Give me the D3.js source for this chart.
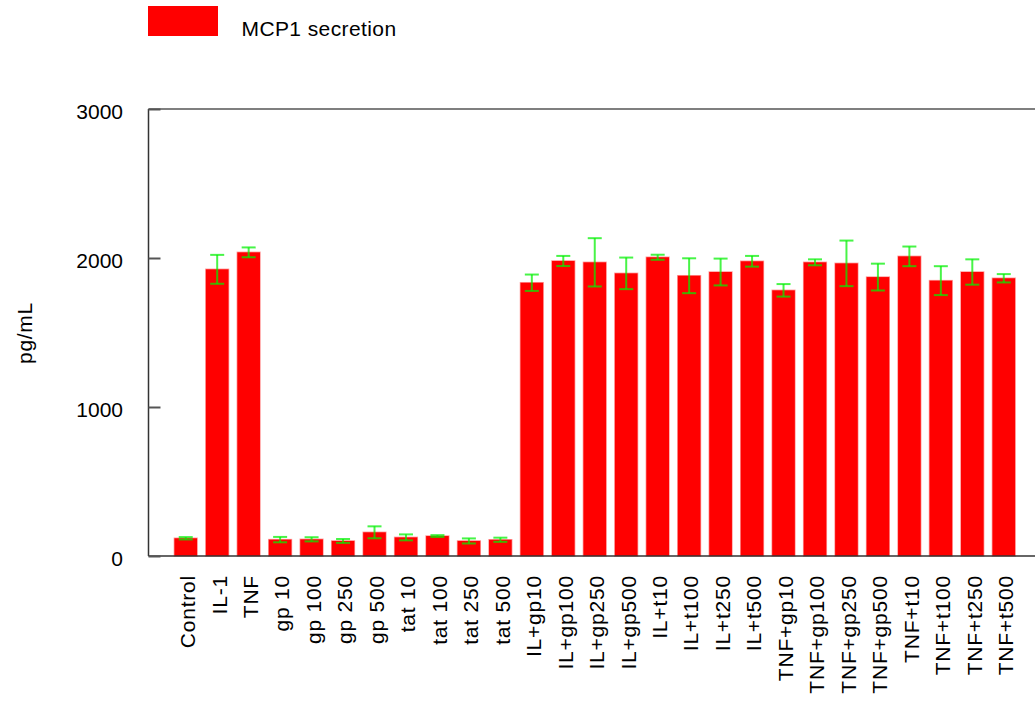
<!DOCTYPE html>
<html>
<head>
<meta charset="utf-8">
<script src="https://cdn.jsdelivr.net/npm/d3@7"></script>
<style>
  body { margin: 0; background: #fff; }
  text { font-family: "Liberation Sans", Arial, sans-serif; fill: #000; }
</style>
</head>
<body>
<div id="chart"></div>
<script>
// data
var categories = ["Control", "IL-1", "TNF", "gp 10", "gp 100", "gp 250", "gp 500",
  "tat 10", "tat 100", "tat 250", "tat 500",
  "IL+gp10", "IL+gp100", "IL+gp250", "IL+gp500",
  "IL+t10", "IL+t100", "IL+t250", "IL+t500",
  "TNF+gp10", "TNF+gp100", "TNF+gp250", "TNF+gp500",
  "TNF+t10", "TNF+t100", "TNF+t250", "TNF+t500"];
var means = [119, 1924, 2038, 110, 112, 101, 159, 125, 134, 101, 109,
  1834, 1980, 1971, 1897, 2005, 1881, 1906, 1978,
  1783, 1971, 1964, 1872, 2011, 1848, 1906, 1864];
var errors = [8, 97, 33, 18, 14, 13, 40, 20, 6, 17, 14,
  55, 34, 162, 106, 17, 117, 90, 36,
  42, 20, 153, 90, 66, 97, 85, 28];
var yTicks = [0, 1000, 2000, 3000];
var seriesName = "MCP1 secretion";
var yTitle = "pg/mL";

var width = 1035, height = 702;
var plotLeft = 148.5, plotTop = 109, plotBottom = 556;

var svg = d3.select("#chart").append("svg")
  .attr("width", width)
  .attr("height", height);

var x = d3.scaleBand()
  .domain(categories)
  .range([170, 1019.5])
  .paddingInner(0.28)
  .paddingOuter(0.14);

var y = d3.scaleLinear()
  .domain([0, 3000])
  .range([plotBottom, plotTop]);

// bars
svg.append("g").selectAll("rect")
  .data(means)
  .enter().append("rect")
  .attr("x", function(d, i) { return x(categories[i]); })
  .attr("y", function(d) { return y(d); })
  .attr("width", x.bandwidth())
  .attr("height", function(d) { return plotBottom - y(d); })
  .attr("fill", "#ff0000")
  .attr("stroke", "#ff0000")
  .attr("stroke-opacity", 0.4)
  .attr("stroke-width", 1.5);

// error bars
var capW = 7;
var eb = svg.append("g")
  .attr("stroke", "#00f000")
  .attr("stroke-opacity", 0.72)
  .attr("stroke-width", 2);
means.forEach(function(m, i) {
  var cx = x(categories[i]) + x.bandwidth() / 2;
  var hi = y(m + errors[i]), lo = y(m - errors[i]);
  eb.append("line").attr("x1", cx).attr("x2", cx).attr("y1", hi).attr("y2", lo);
  eb.append("line").attr("x1", cx - capW).attr("x2", cx + capW).attr("y1", hi).attr("y2", hi);
  eb.append("line").attr("x1", cx - capW).attr("x2", cx + capW).attr("y1", lo).attr("y2", lo);
});

// frame: left, top and bottom lines
svg.append("line").attr("x1", plotLeft).attr("x2", plotLeft).attr("y1", plotTop).attr("y2", plotBottom)
  .attr("stroke", "#333").attr("stroke-width", 1.5);
svg.append("line").attr("x1", plotLeft).attr("x2", width).attr("y1", plotTop).attr("y2", plotTop)
  .attr("stroke", "#555").attr("stroke-width", 1.5);
svg.append("line").attr("x1", plotLeft).attr("x2", width).attr("y1", plotBottom).attr("y2", plotBottom)
  .attr("stroke", "#333").attr("stroke-width", 1.5);

// y axis: inward ticks, labels on the left
var yAxis = d3.axisRight(y).tickValues(yTicks).tickSize(12).tickFormat("");
var ya = svg.append("g").attr("transform", "translate(" + plotLeft + ",0)").call(yAxis);
ya.select(".domain").remove();
ya.selectAll(".tick line").attr("stroke", "#555").attr("stroke-width", 2);

svg.append("g").selectAll("text")
  .data(yTicks)
  .enter().append("text")
  .attr("x", 123)
  .attr("y", function(d) { return y(d) + 3; })
  .attr("dy", "0.35em")
  .attr("text-anchor", "end")
  .style("font-size", "21px")
  .text(function(d) { return d; });

// category labels
svg.append("g").selectAll("text")
  .data(categories)
  .enter().append("text")
  .attr("transform", function(d) {
    return "translate(" + (x(d) + x.bandwidth() / 2 + 2) + ",575) rotate(-90)";
  })
  .attr("dy", "0.35em")
  .attr("text-anchor", "end")
  .style("font-size", "21px")
  .style("letter-spacing", "0.8px")
  .text(function(d) { return d; });

// y title
svg.append("text")
  .attr("transform", "translate(32,333) rotate(-90)")
  .attr("text-anchor", "middle")
  .style("font-size", "21px")
  .style("letter-spacing", "0.7px")
  .text(yTitle);

// legend
svg.append("rect")
  .attr("x", 148).attr("y", 6).attr("width", 70).attr("height", 30)
  .attr("fill", "#ff0000");
svg.append("text")
  .attr("x", 241.5).attr("y", 35.5)
  .style("font-size", "21px")
  .style("letter-spacing", "0.4px")
  .text(seriesName);
</script>
</body>
</html>
